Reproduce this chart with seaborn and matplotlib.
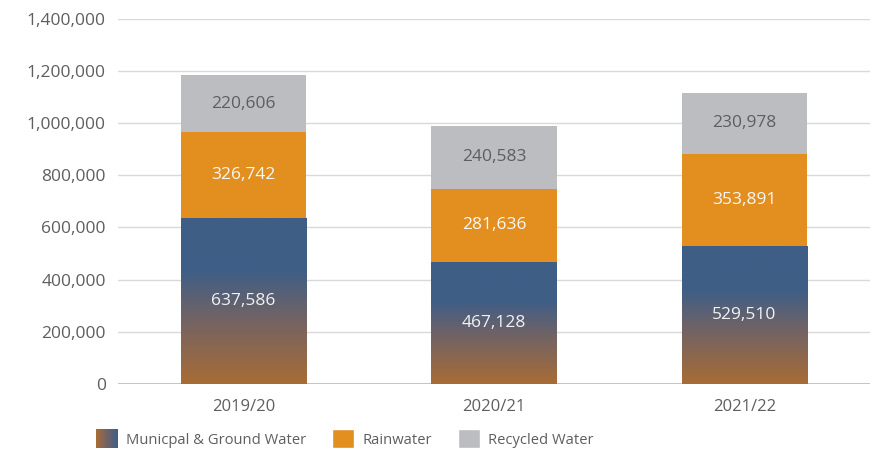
"""Water consumption by source, stacked bars with a gradient base"""
import matplotlib
matplotlib.use('Agg')
import matplotlib.pyplot as plt
from matplotlib.colors import LinearSegmentedColormap
from matplotlib.legend_handler import HandlerBase
from matplotlib.patches import Rectangle
import numpy as np
import pandas as pd
import seaborn as sns

years = ['2019/20', '2020/21', '2021/22']
municipal = [637586, 467128, 529510]
rainwater = [326742, 281636, 353891]
recycled = [220606, 240583, 230978]
sources = ['Municpal & Ground Water', 'Rainwater', 'Recycled Water']
yticks = [0, 200000, 400000, 600000, 800000, 1000000, 1200000, 1400000]

BLUE = '#3f5e86'
BROWN = '#a86c35'
ORANGE = '#e28f1f'
GREY = '#bcbdc1'
TEXT = '#5e5e5e'

# Vertical gradient of the base segment: brown at the bottom, solid blue at the top
bar_cmap = LinearSegmentedColormap.from_list(
    'munic', [(0, BROWN), (0.35, '#786460'), (0.68, BLUE), (1, BLUE)])
legend_cmap = LinearSegmentedColormap.from_list('munic_leg', [BROWN, '#6f6168', BLUE])


class GradientHandler(HandlerBase):
    """Legend key drawn as a left-to-right gradient"""
    def create_artists(self, legend, orig_handle, xdescent, ydescent,
                       width, height, fontsize, trans):
        n = 30
        strips = []
        for i in range(n):
            strips.append(Rectangle((-xdescent + width * i / n, -ydescent),
                                    width / n * 1.1, height,
                                    facecolor=legend_cmap(i / (n - 1)),
                                    edgecolor='none', transform=trans))
        return strips


sns.set_style('white')
plt.rcParams['font.family'] = ['Open Sans', 'DejaVu Sans']

df = pd.DataFrame({'year': years, 'municipal': municipal,
                   'rainwater': rainwater, 'recycled': recycled})
df['mid'] = df['municipal'] + df['rainwater']
df['top'] = df['mid'] + df['recycled']

fig = plt.figure(figsize=(8.75, 4.51), dpi=100)
ax = fig.add_axes([0.135, 0.149, 0.859, 0.809])

# Stack by drawing cumulative totals back to front
for col, color in [('top', GREY), ('mid', ORANGE), ('municipal', BLUE)]:
    sns.barplot(data=df, x='year', y=col, color=color, width=0.5,
                saturation=1, errorbar=None, linewidth=0, ax=ax, zorder=3)

# Overlay the gradient on the base bars
base_bars = ax.patches[-3:]
gradient = np.linspace(0, 1, 256).reshape(-1, 1)
for bar in base_bars:
    x0, h, w = bar.get_x(), bar.get_height(), bar.get_width()
    img = ax.imshow(gradient, cmap=bar_cmap, origin='lower', aspect='auto',
                    extent=[x0, x0 + w, 0, h], zorder=3.5)
    img.set_clip_path(bar)

# Value labels in the middle of each segment
for i in range(len(years)):
    segments = [(0, municipal[i], '#f2f2f2'),
                (municipal[i], rainwater[i], '#f7f7f7'),
                (municipal[i] + rainwater[i], recycled[i], TEXT)]
    for bottom, value, color in segments:
        ax.text(i, bottom + value / 2, f'{value:,}', ha='center', va='center',
                fontsize=12.5, color=color, zorder=5)

ax.set_xlim(-0.5, 2.5)
ax.set_ylim(0, 1400000)
ax.set_yticks(yticks)
ax.yaxis.set_major_formatter(matplotlib.ticker.StrMethodFormatter('{x:,.0f}'))
ax.set_xlabel('')
ax.set_ylabel('')
ax.yaxis.grid(True, color='#d9d9d9', lw=1)
ax.set_axisbelow(True)
ax.axhline(0, color='#bfbfbf', lw=2, zorder=2)
sns.despine(ax=ax, left=True, bottom=True)
ax.tick_params(axis='y', length=0, pad=9, labelsize=12.5, labelcolor=TEXT)
ax.tick_params(axis='x', length=0, pad=11, labelsize=12, labelcolor=TEXT)

# Legend below the plot
munic_handle = Rectangle((0, 0), 1, 1)
handles = [munic_handle,
           Rectangle((0, 0), 1, 1, facecolor=ORANGE),
           Rectangle((0, 0), 1, 1, facecolor=GREY)]
fig.legend(handles, sources, loc='center left', bbox_to_anchor=(0.11, 0.027),
           ncol=3, frameon=False, handlelength=1.5, handleheight=1.6,
           handletextpad=0.55, columnspacing=1.75, borderpad=0, borderaxespad=0,
           fontsize=10.6, labelcolor=TEXT,
           handler_map={munic_handle: GradientHandler()})

fig.savefig('out.png', dpi=100)
